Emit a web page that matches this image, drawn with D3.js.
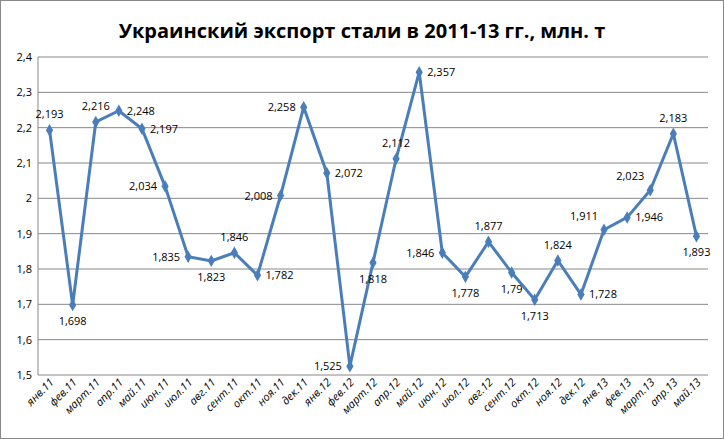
<!DOCTYPE html>
<html><head><meta charset="utf-8">
<script src="https://cdn.jsdelivr.net/npm/d3@7"></script>
<style>
body{margin:0;background:#fff;font-family:"Open Sans","Liberation Sans",sans-serif;}
</style></head><body>
<svg id="chart" width="724" height="439"></svg>
<script>
const months = ["янв.11","фев.11","март.11","апр.11","май.11","июн.11","июл.11","авг.11","сент.11","окт.11","ноя.11","дек.11",
  "янв.12","фев.12","март.12","апр.12","май.12","июн.12","июл.12","авг.12","сент.12","окт.12","ноя.12","дек.12",
  "янв.13","фев.13","март.13","апр.13","май.13"];
const exportMt = [2.193,1.698,2.216,2.248,2.197,2.034,1.835,1.823,1.846,1.782,2.008,2.258,
  2.072,1.525,1.818,2.112,2.357,1.846,1.778,1.877,1.79,1.713,1.824,1.728,
  1.911,1.946,2.023,2.183,1.893];
const yTicks = [1.5,1.6,1.7,1.8,1.9,2,2.1,2.2,2.3,2.4];
// label side for each point: a=above, b=below, l=left, r=right, al=above-left
const labelSide = ["a","b","a","r","r","l","l","b","a","r","l","l",
  "r","l","b","a","r","l","b","a","b","b","a","r",
  "al","r","al","a","b"];

const svg = d3.select("#chart");
svg.append("rect").attr("x",0.5).attr("y",0.5).attr("width",723).attr("height",438)
  .attr("fill","#fff").attr("stroke","#888");

const plotL = 38, plotR = 708, plotT = 57, plotB = 375;
const x = d3.scaleBand().domain(months).range([plotL, plotR]);
const y = d3.scaleLinear().domain([1.5, 2.4]).range([plotB, plotT]);
const fmt = v => String(v).replace(".", ",");

svg.append("text").attr("x", 362).attr("y", 38).attr("text-anchor","middle")
  .style("font-size","20px").style("font-weight","bold").text("Украинский экспорт стали в 2011-13 гг., млн. т");

svg.selectAll(".grid").data(yTicks).enter().append("line")
  .attr("x1", plotL).attr("x2", plotR)
  .attr("y1", d => y(d)).attr("y2", d => y(d))
  .attr("stroke", "#888").attr("stroke-width", 1);

svg.selectAll(".ytick").data(yTicks).enter().append("text")
  .attr("x", plotL - 6).attr("y", d => y(d) + 4).attr("text-anchor","end")
  .style("font-size","11px").text(fmt);

svg.append("line").attr("x1", plotL).attr("x2", plotL).attr("y1", plotT).attr("y2", plotB).attr("stroke","#888");

svg.selectAll(".xtick").data(months).enter().append("text")
  .attr("transform", d => `translate(${x(d) + x.bandwidth()/2 + 5},${plotB + 8}) rotate(-45)`)
  .attr("text-anchor","end").style("font-size","11px").style("font-style","italic").text(d => d);

const cx = i => x(months[i]) + x.bandwidth()/2;
svg.append("path").datum(exportMt)
  .attr("d", d3.line().x((d,i) => cx(i)).y(d => y(d)))
  .attr("fill","none").attr("stroke","#4a7ebb").attr("stroke-width",3);

svg.selectAll(".pt").data(exportMt).enter().append("path")
  .attr("d", d3.symbol(d3.symbolDiamond, 45))
  .attr("transform", (d,i) => `translate(${cx(i)},${y(d)})`)
  .attr("fill","#4a7ebb");

const off = {a:[0,-12,"middle"], b:[0,20,"middle"], l:[-8,4,"end"], r:[8,4,"start"], al:[-6,-10,"end"]};
svg.selectAll(".lbl").data(exportMt).enter().append("text")
  .attr("x", (d,i) => cx(i) + off[labelSide[i]][0])
  .attr("y", (d,i) => y(d) + off[labelSide[i]][1])
  .attr("text-anchor", (d,i) => off[labelSide[i]][2])
  .style("font-size","11px").text(fmt);
</script>
</body></html>
